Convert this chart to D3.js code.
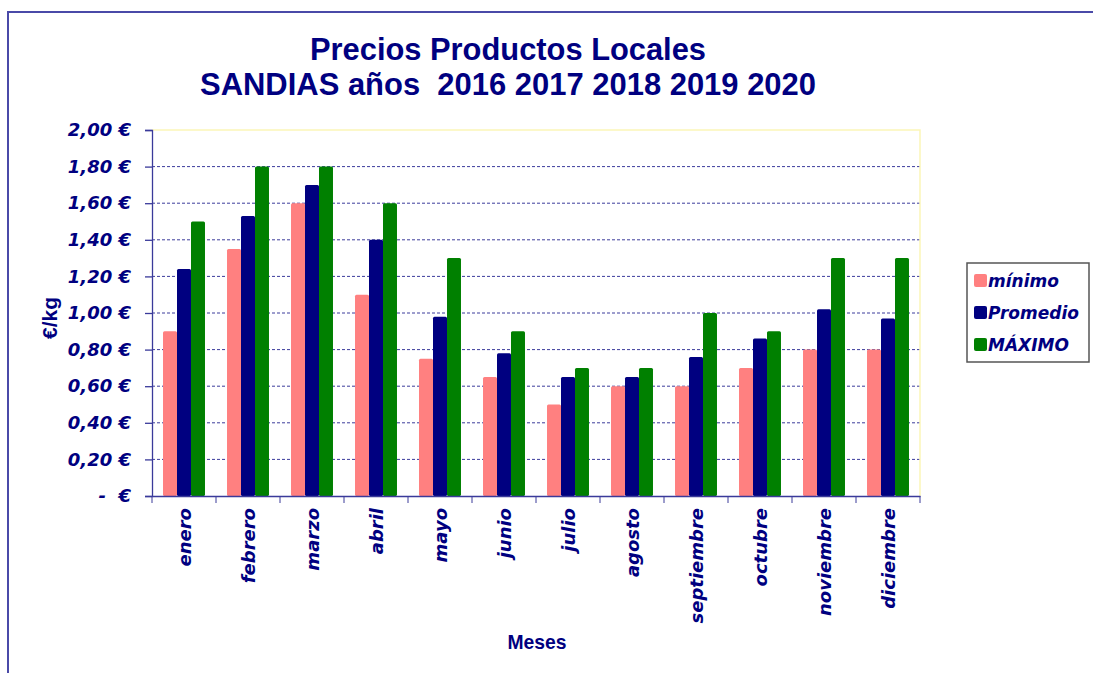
<!DOCTYPE html>
<html>
<head>
<meta charset="utf-8">
<script src="https://cdn.jsdelivr.net/npm/d3@7"></script>
<style>
  body { margin: 0; background: #fff; }
  text { fill: #000080; }
</style>
</head>
<body>
<div id="chart"></div>
<script>
// data
var months = ["enero", "febrero", "marzo", "abril", "mayo", "junio", "julio", "agosto", "septiembre", "octubre", "noviembre", "diciembre"];
var minimo = [0.90, 1.35, 1.60, 1.10, 0.75, 0.65, 0.50, 0.60, 0.60, 0.70, 0.80, 0.80];
var promedio = [1.24, 1.53, 1.70, 1.40, 0.98, 0.78, 0.65, 0.65, 0.76, 0.86, 1.02, 0.97];
var maximo = [1.50, 1.80, 1.80, 1.60, 1.30, 0.90, 0.70, 0.70, 1.00, 0.90, 1.30, 1.30];
var seriesNames = ["mínimo", "Promedio", "MÁXIMO"];
var seriesColors = ["#ff8080", "#000080", "#008000"];
var yTicks = [0, 0.2, 0.4, 0.6, 0.8, 1.0, 1.2, 1.4, 1.6, 1.8, 2.0];

var svgWidth = 1093;
var svgHeight = 673;

var margin = { top: 130, right: 173, bottom: 177, left: 152 };
var width = svgWidth - margin.left - margin.right;
var height = svgHeight - margin.top - margin.bottom;

var italicFont = "'DejaVu Sans', Verdana, sans-serif";
var plainFont = "'Liberation Sans', Arial, sans-serif";

var svg = d3.select("#chart")
    .append("svg")
    .attr("width", svgWidth)
    .attr("height", svgHeight);

svg.append("rect")
    .attr("width", svgWidth)
    .attr("height", svgHeight)
    .attr("fill", "#fff");

// outer frame, runs off the right and bottom edges
svg.append("rect")
    .attr("x", 8)
    .attr("y", 12)
    .attr("width", 1300)
    .attr("height", 900)
    .attr("fill", "none")
    .attr("stroke", "#4a4aa8")
    .attr("stroke-width", 2);

// title (narrow bold face, squeezed to the measured width)
svg.append("text")
    .attr("x", 508)
    .attr("y", 60)
    .attr("text-anchor", "middle")
    .attr("font-family", plainFont)
    .attr("font-weight", "bold")
    .attr("font-size", 32)
    .attr("textLength", 396)
    .attr("lengthAdjust", "spacingAndGlyphs")
    .text("Precios Productos Locales");

svg.append("text")
    .attr("x", 508)
    .attr("y", 95)
    .attr("text-anchor", "middle")
    .attr("font-family", plainFont)
    .attr("font-weight", "bold")
    .attr("font-size", 32)
    .attr("textLength", 616)
    .attr("lengthAdjust", "spacingAndGlyphs")
    .style("white-space", "pre")
    .text("SANDIAS años  2016 2017 2018 2019 2020");

var chartGroup = svg.append("g")
    .attr("transform", `translate(${margin.left}, ${margin.top})`);

var x0 = d3.scaleBand()
    .domain(months)
    .range([0, width])
    .paddingInner(0.344)
    .paddingOuter(0.172);

var x1 = d3.scaleBand()
    .domain(seriesNames)
    .range([0, x0.bandwidth()]);

var yLinearScale = d3.scaleLinear()
    .domain([0, 2])
    .range([height, 0]);

// gridlines
chartGroup.selectAll(".grid")
    .data(yTicks.filter(d => d > 0 && d < 2))
    .enter()
    .append("line")
    .attr("x1", 0)
    .attr("x2", width)
    .attr("y1", d => yLinearScale(d))
    .attr("y2", d => yLinearScale(d))
    .attr("stroke", "#3c3c9c")
    .attr("stroke-width", 1)
    .attr("stroke-dasharray", "3,2");

// pale yellow top and right border of the plot area
chartGroup.append("path")
    .attr("d", `M0,${yLinearScale(2)}H${width}V${height}`)
    .attr("fill", "none")
    .attr("stroke", "#fbf6b8")
    .attr("stroke-width", 1.5);

var rows = months.map((m, i) => ({ month: m, values: [minimo[i], promedio[i], maximo[i]] }));

var groups = chartGroup.selectAll(".month")
    .data(rows)
    .enter()
    .append("g")
    .attr("transform", d => `translate(${x0(d.month)},0)`);

groups.selectAll("rect")
    .data(d => d.values.map((v, j) => ({ name: seriesNames[j], value: v, color: seriesColors[j] })))
    .enter()
    .append("rect")
    .attr("x", d => x1(d.name))
    .attr("y", d => yLinearScale(d.value))
    .attr("width", x1.bandwidth())
    .attr("height", d => height - yLinearScale(d.value))
    .attr("rx", 1.5)
    .attr("fill", d => d.color);

// axes
var leftAxis = d3.axisLeft(yLinearScale)
    .tickValues(yTicks)
    .tickSize(7)
    .tickPadding(14)
    .tickFormat(d => d === 0 ? "-  €" : d3.format(".2f")(d).replace(".", ",") + " €");

var yAxis = chartGroup.append("g")
    .call(leftAxis);

yAxis.selectAll("text")
    .attr("font-family", italicFont)
    .attr("font-weight", "bold")
    .attr("font-style", "italic")
    .attr("font-size", 18)
    .style("white-space", "pre")
    .attr("fill", "#000080");

var bottomAxis = d3.axisBottom(x0)
    .tickSize(0)
    .tickFormat("");

var xAxis = chartGroup.append("g")
    .attr("transform", `translate(0, ${height})`)
    .call(bottomAxis);

// tick marks sit between the months
xAxis.selectAll(".sep")
    .data(d3.range(months.length + 1))
    .enter()
    .append("line")
    .attr("x1", i => i * x0.step())
    .attr("x2", i => i * x0.step())
    .attr("y1", 0)
    .attr("y2", 7)
    .attr("stroke", "#3a3a9a");

xAxis.selectAll(".lbl")
    .data(months)
    .enter()
    .append("text")
    .attr("transform", d => `translate(${x0(d) + x0.bandwidth() / 2},12) rotate(-90)`)
    .attr("dy", "0.4em")
    .attr("text-anchor", "end")
    .attr("font-family", italicFont)
    .attr("font-weight", "bold")
    .attr("font-style", "italic")
    .attr("font-size", 18)
    .attr("fill", "#000080")
    .text(d => d);

chartGroup.selectAll(".domain, .tick line")
    .attr("stroke", "#3a3a9a")
    .attr("stroke-width", 1.3);

// axis titles
svg.append("text")
    .attr("transform", "translate(57,318) rotate(-90)")
    .attr("text-anchor", "middle")
    .attr("font-family", plainFont)
    .attr("font-weight", "bold")
    .attr("font-size", 21)
    .text("€/kg");

svg.append("text")
    .attr("x", 537)
    .attr("y", 649)
    .attr("text-anchor", "middle")
    .attr("font-family", plainFont)
    .attr("font-weight", "bold")
    .attr("font-size", 21)
    .attr("textLength", 59)
    .attr("lengthAdjust", "spacingAndGlyphs")
    .text("Meses");

// legend
var legend = svg.append("g")
    .attr("transform", "translate(967,263)");

legend.append("rect")
    .attr("width", 122)
    .attr("height", 99)
    .attr("fill", "#fff")
    .attr("stroke", "#555")
    .attr("stroke-width", 1.5);

var items = legend.selectAll(".item")
    .data(seriesNames)
    .enter()
    .append("g")
    .attr("transform", (d, i) => `translate(7,${18 + i * 32})`);

items.append("rect")
    .attr("x", 0)
    .attr("y", -7)
    .attr("width", 13)
    .attr("height", 13)
    .attr("rx", 2)
    .attr("fill", (d, i) => seriesColors[i]);

items.append("text")
    .attr("x", 14)
    .attr("dy", "0.36em")
    .attr("font-family", italicFont)
    .attr("font-weight", "bold")
    .attr("font-style", "italic")
    .attr("font-size", 17)
    .text(d => d);
</script>
</body>
</html>
